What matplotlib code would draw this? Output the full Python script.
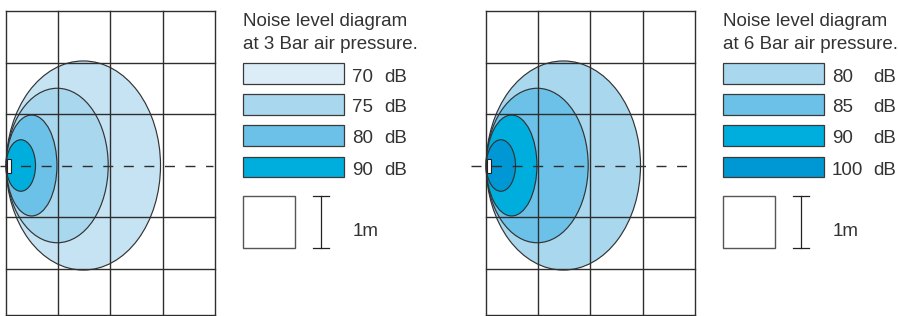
import matplotlib
matplotlib.use("Agg")
import matplotlib.pyplot as plt
from matplotlib.patches import Ellipse, Rectangle

plt.rcParams['font.family'] = ['Liberation Sans', 'DejaVu Sans']
plt.rcParams['lines.scale_dashes'] = False

# ---- data ----
levels_3bar = [70, 75, 80, 90]
levels_6bar = [80, 85, 90, 100]
reach_m = [2.95, 1.95, 0.97, 0.56]          # forward extent of each contour (m)
half_width_m = [2.03, 1.50, 0.98, 0.50]     # half of lateral extent (m)
fill_3bar = ['#c6e3f4', '#a8d7ee', '#6bc1e7', '#00aede']
legend_3bar = ['#dcedf8', '#a8d7ee', '#6bc1e7', '#00aede']
fill_6bar = ['#a8d7ee', '#6bc1e7', '#00aede', '#0098d4']
legend_6bar = ['#a8d7ee', '#6bc1e7', '#00aede', '#0098d4']
titles = ["Noise level diagram\nat 3 Bar air pressure.",
          "Noise level diagram\nat 6 Bar air pressure."]
scale_label = "1m"
grid_cols = 4
grid_rows_top = 3
grid_bottom = -2.903
grid_lines_y = [3, 2, 1, -1, -2]

W, H = 898, 316
fig = plt.figure(figsize=(W / 100, H / 100), dpi=100)

SX, SY = 52.3, 51.5   # px per metre
CY = 165.5            # px of centre line


def add_px_axes(x0, y0, w, h):
    return fig.add_axes([x0 / W, 1 - (y0 + h) / H, w / W, h / H])


GRID_C = '#2e2e2e'
TEXT_C = '#333333'


def draw_panel(ax_x0, origin_px, dash_start_px, fills):
    ax = add_px_axes(ax_x0, 0, 230, H)
    ax.set_xlim(-(origin_px - ax_x0) / SX, (ax_x0 + 230 - origin_px) / SX)
    ax.set_ylim(-(H - CY) / SY, CY / SY)
    ax.axis('off')
    # contours (largest first)
    for r, hw, c in zip(reach_m, half_width_m, fills):
        ax.add_patch(Ellipse((0.01 + r / 2, 0), r, 2 * hw, facecolor=c,
                             edgecolor='#333333', lw=0.85, zorder=2))
    # grid
    for gx in range(grid_cols + 1):
        ax.plot([gx, gx], [grid_bottom, grid_rows_top], color=GRID_C,
                lw=1.0, zorder=3, solid_capstyle='projecting', clip_on=False)
    for gy in grid_lines_y + [grid_bottom]:
        ax.plot([0, grid_cols], [gy, gy], color=GRID_C, lw=1.0, zorder=3,
                solid_capstyle='projecting', clip_on=False)
    # centre dashed line
    xs = -(origin_px - dash_start_px) / SX
    ax.plot([xs, grid_cols - 0.03], [0, 0], color=GRID_C, lw=1.0,
            dashes=(7.2, 7.6), zorder=4)
    # source
    ax.add_patch(Rectangle((0.02, -0.14), 0.085, 0.27, facecolor='white',
                           edgecolor='#222222', lw=0.8, zorder=5))
    return ax


draw_panel(0, 5.7, 0, fill_3bar)
draw_panel(470, 485.7, 471, fill_6bar)

# overlay in pixel coordinates for legends
ov = fig.add_axes([0, 0, 1, 1])
ov.set_xlim(0, W)
ov.set_ylim(H, 0)
ov.axis('off')
ov.patch.set_alpha(0)


def draw_legend(x0, num_x, db_x, title, levels, colors):
    lines = title.split("\n")
    ov.text(x0, 26, lines[0], fontsize=13.5, color=TEXT_C, va='baseline', ha='left')
    ov.text(x0, 49.3, lines[1], fontsize=13.5, color=TEXT_C, va='baseline', ha='left')
    tops = [63.3, 94.3, 125.2, 156.7]
    for t, lev, c in zip(tops, levels, colors):
        ov.add_patch(Rectangle((x0, t), 101.3, 20.3, facecolor=c,
                               edgecolor='#3a3a3a', lw=0.9))
        ov.text(num_x, t + 18.2, f"{lev}", fontsize=13.5, color=TEXT_C,
                va='baseline', ha='left')
        ov.text(db_x, t + 18.2, "dB", fontsize=13.5, color=TEXT_C,
                va='baseline', ha='left')
    # scale square = 1 m
    ov.add_patch(Rectangle((x0, 196), SX, SY, facecolor='none',
                           edgecolor='#555555', lw=1.0))
    bx = x0 + 78
    ov.plot([bx, bx], [195.5, 247.5], color='#222222', lw=0.9)
    ov.plot([bx - 8, bx + 8], [195.5, 195.5], color='#222222', lw=0.9)
    ov.plot([bx - 8, bx + 8], [247.5, 247.5], color='#222222', lw=0.9)
    ov.text(x0 + 110, 236.5, scale_label, fontsize=13.5, color=TEXT_C,
            va='baseline', ha='left')


draw_legend(242.7, 351.7, 384.0, titles[0], levels_3bar, legend_3bar)
draw_legend(722.7, 831.7, 873.3, titles[1], levels_6bar, legend_6bar)

fig.savefig("out.png", dpi=100)
